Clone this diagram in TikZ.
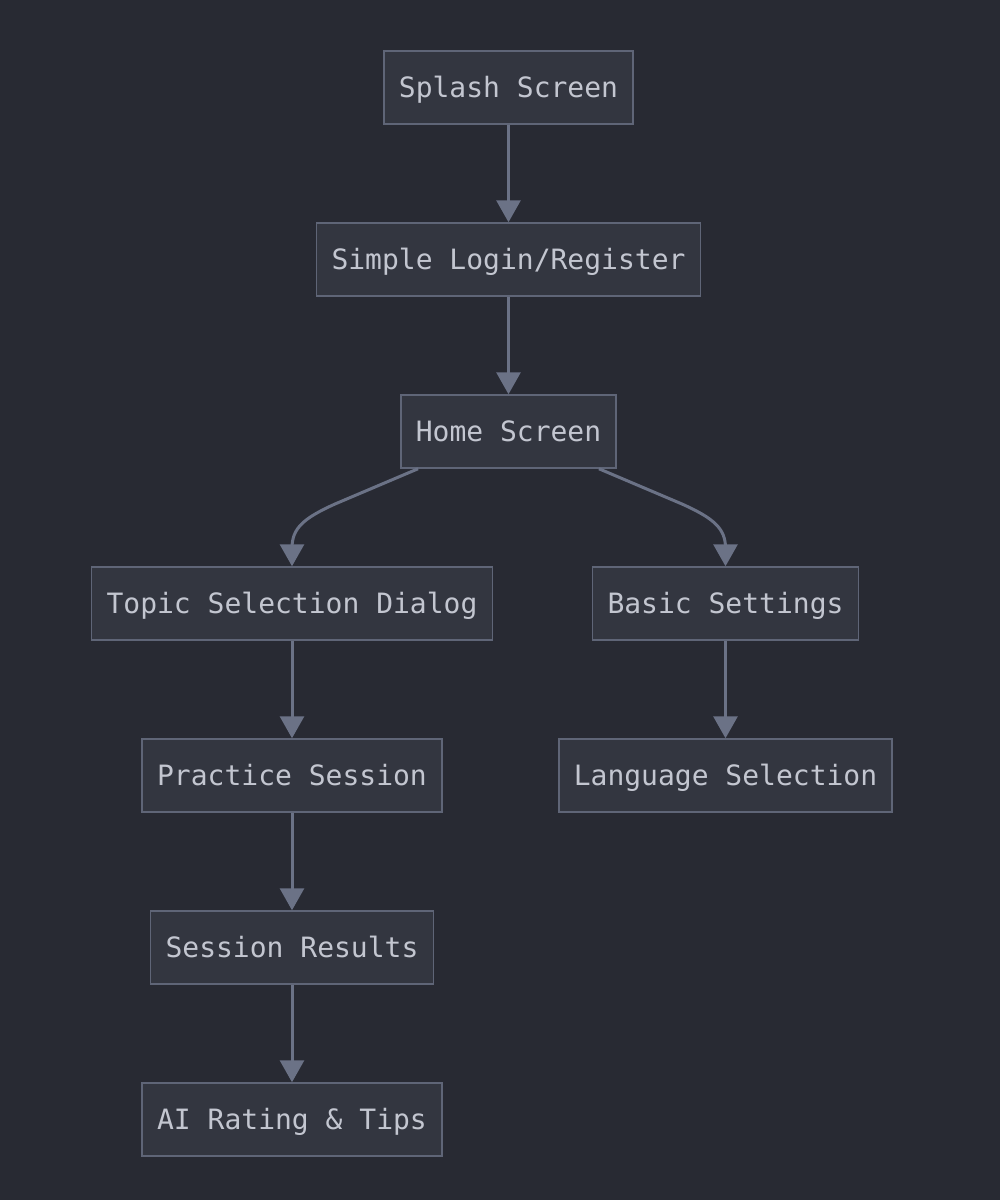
\documentclass[tikz,border=0pt]{standalone}
\usepackage{fontspec}
\setmonofont{DejaVu Sans Mono}
\usetikzlibrary{arrows.meta}
\definecolor{bgc}{HTML}{282A33}
\definecolor{boxfill}{HTML}{333640}
\definecolor{boxline}{HTML}{5F6577}
\definecolor{arrc}{HTML}{6B7286}
\definecolor{txtc}{HTML}{C3C6D0}
\begin{document}
\begin{tikzpicture}[x=1pt,y=-1pt,
  box/.style={draw=boxline, fill=boxfill, line width=1.5pt, minimum height=73pt,
    inner xsep=15pt, inner ysep=0pt, text=txtc, text height=23pt, text depth=4pt,
    font=\ttfamily\fontsize{28}{34}\selectfont},
  arr/.style={draw=arrc, line width=3pt, -{Triangle[length=22pt,width=24pt]}}]
\fill[bgc] (0,0) rectangle (1000,1200);
\useasboundingbox (0,0) rectangle (1000,1200);
\node[box] (splash) at (508.5,87.5) {Splash Screen};
\node[box] (login) at (508.5,259.5) {Simple Login/Register};
\node[box] (home) at (508.5,431.5) {Home Screen};
\node[box] (topic) at (292,603.5) {Topic Selection Dialog};
\node[box] (basic) at (725.5,603.5) {Basic Settings};
\node[box] (practice) at (292,775.5) {Practice Session};
\node[box] (lang) at (725.5,775.5) {Language Selection};
\node[box] (results) at (292,947.5) {Session Results};
\node[box] (ai) at (292,1119.5) {AI Rating \& Tips};
\coordinate (hl) at ([xshift=18pt]home.south west);
\coordinate (hr) at ([xshift=-18pt]home.south east);
\draw[arr] (splash) -- (login);
\draw[arr] (login) -- (home);
\draw[arr] (hl) -- (335,504) .. controls (304,518) and (292,528) .. (292,548) -- (topic.north);
\draw[arr] (hr) -- (682,504) .. controls (713,518) and (725.5,528) .. (725.5,548) -- (basic.north);
\draw[arr] (topic) -- (practice);
\draw[arr] (practice) -- (results);
\draw[arr] (results) -- (ai);
\draw[arr] (basic) -- (lang);
\end{tikzpicture}
\end{document}
